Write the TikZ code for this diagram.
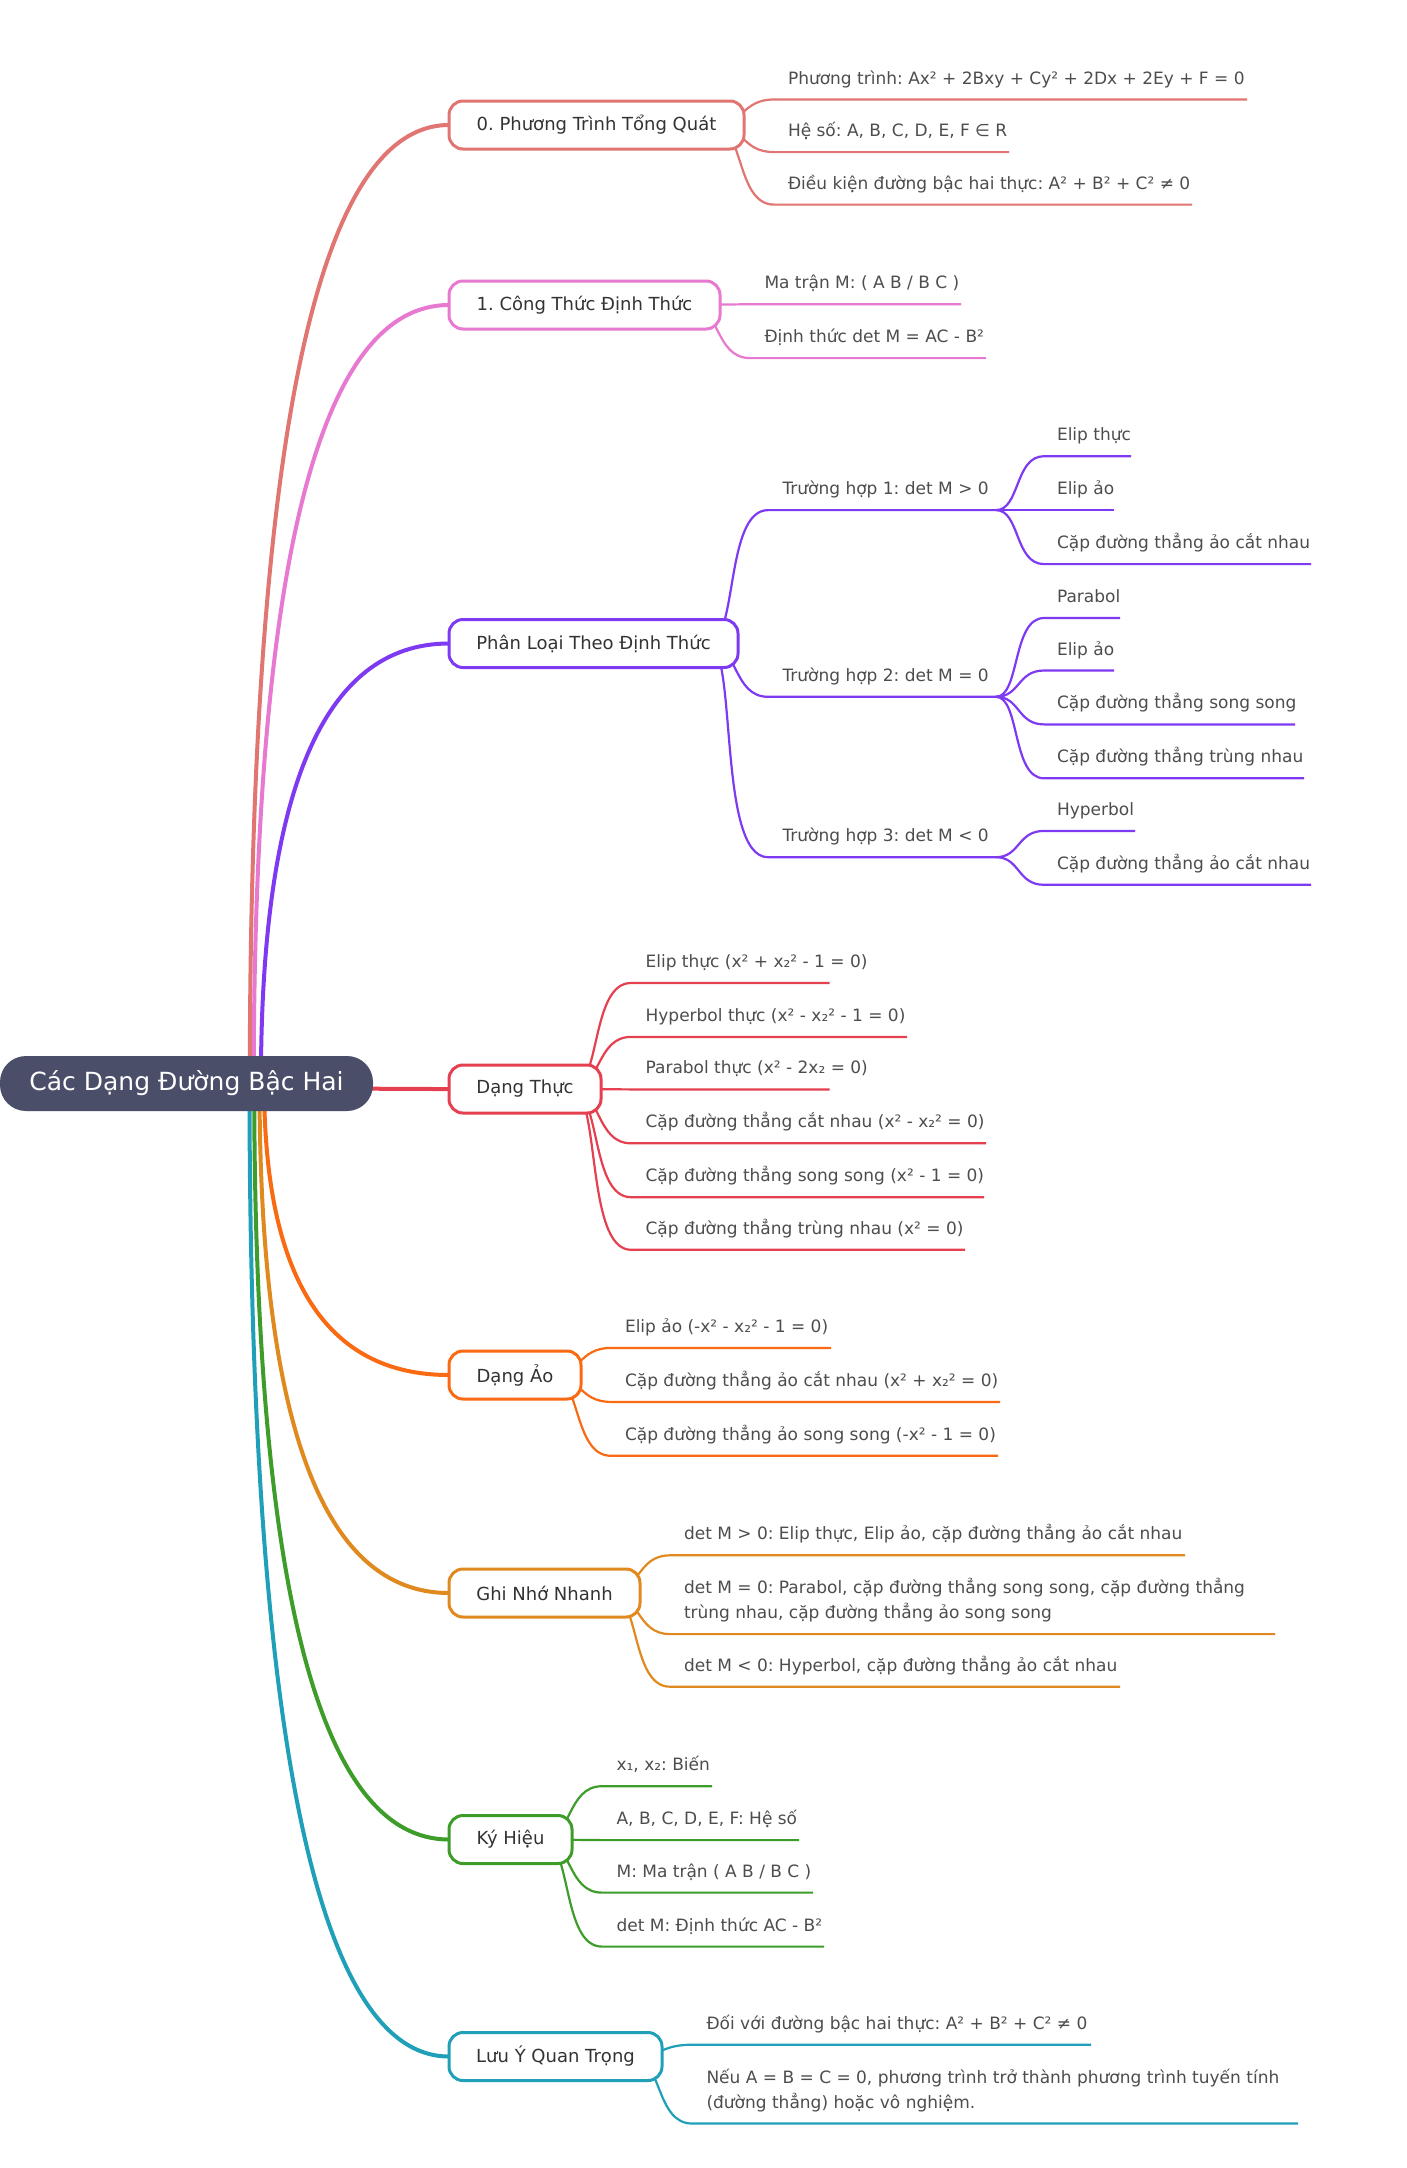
\documentclass[tikz,border=0pt]{standalone}
\usepackage{fontspec}
\setmainfont{DejaVu Sans}
\usetikzlibrary{calc}
\pgfdeclarelayer{back}
\pgfdeclarelayer{links}
\pgfsetlayers{back,links,main}
\definecolor{cA}{HTML}{E07572}
\definecolor{cB}{HTML}{E779D0}
\definecolor{cC}{HTML}{7E3AF2}
\definecolor{cD}{HTML}{E5404F}
\definecolor{cE}{HTML}{F96A12}
\definecolor{cF}{HTML}{E0891E}
\definecolor{cG}{HTML}{3E9D2A}
\definecolor{cH}{HTML}{1FA0B8}
\definecolor{rootfill}{HTML}{4A4E69}
\definecolor{topictxt}{HTML}{333333}
\definecolor{leaftxt}{HTML}{4D4D4D}
\frenchspacing

\tikzset{
  rootnode/.style={fill=rootfill, text=white, rounded corners=26pt, minimum width=373pt,
    minimum height=55pt, inner sep=0pt, outer sep=0pt, font=\fontsize{25}{30}\selectfont},
  topic/.style={draw=#1, line width=3pt, fill=white, rounded corners=14pt, minimum height=48pt,
    inner xsep=25pt, inner ysep=0pt, outer sep=0pt, anchor=west, text=topictxt,
    font=\fontsize{18}{22}\selectfont},
  leaf/.style={anchor=base west, inner sep=0pt, outer sep=0pt, align=left, text=leaftxt,
    font=\fontsize{17}{25}\selectfont},
  mainline/.style={line width=4pt, line cap=round},
  subline/.style={line width=2.2pt},
}

% main connector: colour, start x, box name
\newcommand\mainlink[3]{%
  \coordinate (s#3) at (#2,1083.5);
  \draw[mainline,#1] (s#3) .. controls ($(s#3)!2/3!(s#3 |- #3.west)$) and ($(#3.west)!2/3!(s#3 |- #3.west)$) .. (#3.west);}
% sub connector: colour, junction (xMid,y1), child underline end, gap
\newcommand\sublink[4]{%
  \draw[subline,#1] let \p1=(#2), \p2=(#3), \n1={abs(\y2-\y1)/10} in
    ({\x1-#4pt},\y1) .. controls (\p1) and ({\x1-\n1*1pt},\y2) .. ({\x1+#4pt},\y2) -- (\p2);}
% leaf: name, text x, underline y, underline end x, text (base = last line)
\newcommand\leaf[5]{%
  \node[leaf] (#1) at (#2,{#3-15.5}) {#5};
  \coordinate (#1e) at (#4,#3);}

\begin{document}
\begin{tikzpicture}[x=1pt,y=-1pt]
\begin{pgfonlayer}{back}
  \fill[white] (0,0) rectangle (1406,2168);
\end{pgfonlayer}
\useasboundingbox (0,0) rectangle (1406,2168);

% root
\node[rootnode] (root) at (186.5,1083.5) {Các Dạng Đường Bậc Hai};

% topics
\node[topic=cA, minimum width=295pt] (b0) at (449,125) {0. Phương Trình Tổng Quát};
\node[topic=cB, minimum width=271pt] (b1) at (449,305) {1. Công Thức Định Thức};
\node[topic=cC, minimum width=289pt] (b2) at (449,643.5) {Phân Loại Theo Định Thức};
\node[topic=cD, minimum width=152pt] (b3) at (449,1089) {Dạng Thực};
\node[topic=cE, minimum width=132pt] (b4) at (449,1375) {Dạng Ảo};
\node[topic=cF, minimum width=191pt] (b5) at (449,1593) {Ghi Nhớ Nhanh};
\node[topic=cG, minimum width=123pt] (b6) at (449,1839.5) {Ký Hiệu};
\node[topic=cH, minimum width=213pt] (b7) at (449,2056.5) {Lưu Ý Quan Trọng};

% leaves
\leaf{l01}{788}{99.5}{1247}{Phương trình: Ax² + 2Bxy + Cy² + 2Dx + 2Ey + F = 0}
\leaf{l02}{788}{152.1}{1009}{Hệ số: A, B, C, D, E, F ∈ R}
\leaf{l03}{788}{204.6}{1192}{Điều kiện đường bậc hai thực: A² + B² + C² ≠ 0}

\leaf{l11}{764.5}{304.2}{961}{Ma trận M: ( A B / B C )}
\leaf{l12}{764.5}{358.1}{986}{Định thức det M = AC - B²}

\leaf{th1}{782.5}{510.1}{996}{Trường hợp 1: det M > 0}
\leaf{th2}{782.5}{696.8}{996}{Trường hợp 2: det M = 0}
\leaf{th3}{782.5}{857.2}{996}{Trường hợp 3: det M < 0}

\leaf{t11}{1057}{456.2}{1131}{Elip thực}
\leaf{t12}{1057}{510.1}{1114}{Elip ảo}
\leaf{t13}{1057}{564.1}{1311}{Cặp đường thẳng ảo cắt nhau}
\leaf{t21}{1057}{618}{1120}{Parabol}
\leaf{t22}{1057}{670.5}{1114}{Elip ảo}
\leaf{t23}{1057}{724.4}{1295}{Cặp đường thẳng song song}
\leaf{t24}{1057}{778.3}{1304}{Cặp đường thẳng trùng nhau}
\leaf{t31}{1057}{830.9}{1135}{Hyperbol}
\leaf{t32}{1057}{884.8}{1311}{Cặp đường thẳng ảo cắt nhau}

\leaf{d1}{645.6}{983}{829.5}{Elip thực (x² + x₂² - 1 = 0)}
\leaf{d2}{645.6}{1036.9}{907}{Hyperbol thực (x² - x₂² - 1 = 0)}
\leaf{d3}{645.6}{1089.4}{829.5}{Parabol thực (x² - 2x₂ = 0)}
\leaf{d4}{645.6}{1143.3}{986}{Cặp đường thẳng cắt nhau (x² - x₂² = 0)}
\leaf{d5}{645.6}{1197.2}{984}{Cặp đường thẳng song song (x² - 1 = 0)}
\leaf{d6}{645.6}{1249.8}{965}{Cặp đường thẳng trùng nhau (x² = 0)}

\leaf{a1}{625}{1347.9}{831}{Elip ảo (-x² - x₂² - 1 = 0)}
\leaf{a2}{625}{1401.9}{1000}{Cặp đường thẳng ảo cắt nhau (x² + x₂² = 0)}
\leaf{a3}{625}{1455.8}{998}{Cặp đường thẳng ảo song song (-x² - 1 = 0)}

\leaf{g1}{684}{1555.3}{1185}{det M > 0: Elip thực, Elip ảo, cặp đường thẳng ảo cắt nhau}
\leaf{g2}{684}{1634.1}{1275}{det M = 0: Parabol, cặp đường thẳng song song, cặp đường thẳng\\trùng nhau, cặp đường thẳng ảo song song}
\leaf{g3}{684}{1686.7}{1120}{det M < 0: Hyperbol, cặp đường thẳng ảo cắt nhau}

\leaf{k1}{616.6}{1786.2}{712}{x₁, x₂: Biến}
\leaf{k2}{616.6}{1840.1}{799}{A, B, C, D, E, F: Hệ số}
\leaf{k3}{616.6}{1892.6}{813}{M: Ma trận ( A B / B C )}
\leaf{k4}{616.6}{1946.6}{824}{det M: Định thức AC - B²}

\leaf{n1}{706.5}{2044.7}{1091}{Đối với đường bậc hai thực: A² + B² + C² ≠ 0}
\leaf{n2}{706.5}{2123.5}{1298}{Nếu A = B = C = 0, phương trình trở thành phương trình tuyến tính\\(đường thẳng) hoặc vô nghiệm.}

% junctions for third level
\coordinate (j1) at ([xshift=24pt]th1e);
\coordinate (j2) at ([xshift=24pt]th2e);
\coordinate (j3) at ([xshift=24pt]th3e);

\begin{pgfonlayer}{links}
  \mainlink{cA}{249.8}{b0}
  \mainlink{cB}{253.7}{b1}
  \mainlink{cC}{260.9}{b2}
  \mainlink{cD}{270.3}{b3}
  \mainlink{cE}{264.1}{b4}
  \mainlink{cF}{259.5}{b5}
  \mainlink{cG}{254.2}{b6}
  \mainlink{cH}{249.5}{b7}

  \sublink{cA}{b0.east}{l01e}{30}
  \sublink{cA}{b0.east}{l02e}{30}
  \sublink{cA}{b0.east}{l03e}{30}
  \sublink{cB}{b1.east}{l11e}{30}
  \sublink{cB}{b1.east}{l12e}{30}
  \sublink{cC}{b2.east}{th1e}{30}
  \sublink{cC}{b2.east}{th2e}{30}
  \sublink{cC}{b2.east}{th3e}{30}
  \sublink{cC}{j1}{t11e}{24}
  \sublink{cC}{j1}{t12e}{24}
  \sublink{cC}{j1}{t13e}{24}
  \sublink{cC}{j2}{t21e}{24}
  \sublink{cC}{j2}{t22e}{24}
  \sublink{cC}{j2}{t23e}{24}
  \sublink{cC}{j2}{t24e}{24}
  \sublink{cC}{j3}{t31e}{24}
  \sublink{cC}{j3}{t32e}{24}
  \sublink{cD}{b3.east}{d1e}{30}
  \sublink{cD}{b3.east}{d2e}{30}
  \sublink{cD}{b3.east}{d3e}{30}
  \sublink{cD}{b3.east}{d4e}{30}
  \sublink{cD}{b3.east}{d5e}{30}
  \sublink{cD}{b3.east}{d6e}{30}
  \sublink{cE}{b4.east}{a1e}{30}
  \sublink{cE}{b4.east}{a2e}{30}
  \sublink{cE}{b4.east}{a3e}{30}
  \sublink{cF}{b5.east}{g1e}{30}
  \sublink{cF}{b5.east}{g2e}{30}
  \sublink{cF}{b5.east}{g3e}{30}
  \sublink{cG}{b6.east}{k1e}{30}
  \sublink{cG}{b6.east}{k2e}{30}
  \sublink{cG}{b6.east}{k3e}{30}
  \sublink{cG}{b6.east}{k4e}{30}
  \sublink{cH}{b7.east}{n1e}{30}
  \sublink{cH}{b7.east}{n2e}{30}
\end{pgfonlayer}
\end{tikzpicture}
\end{document}
